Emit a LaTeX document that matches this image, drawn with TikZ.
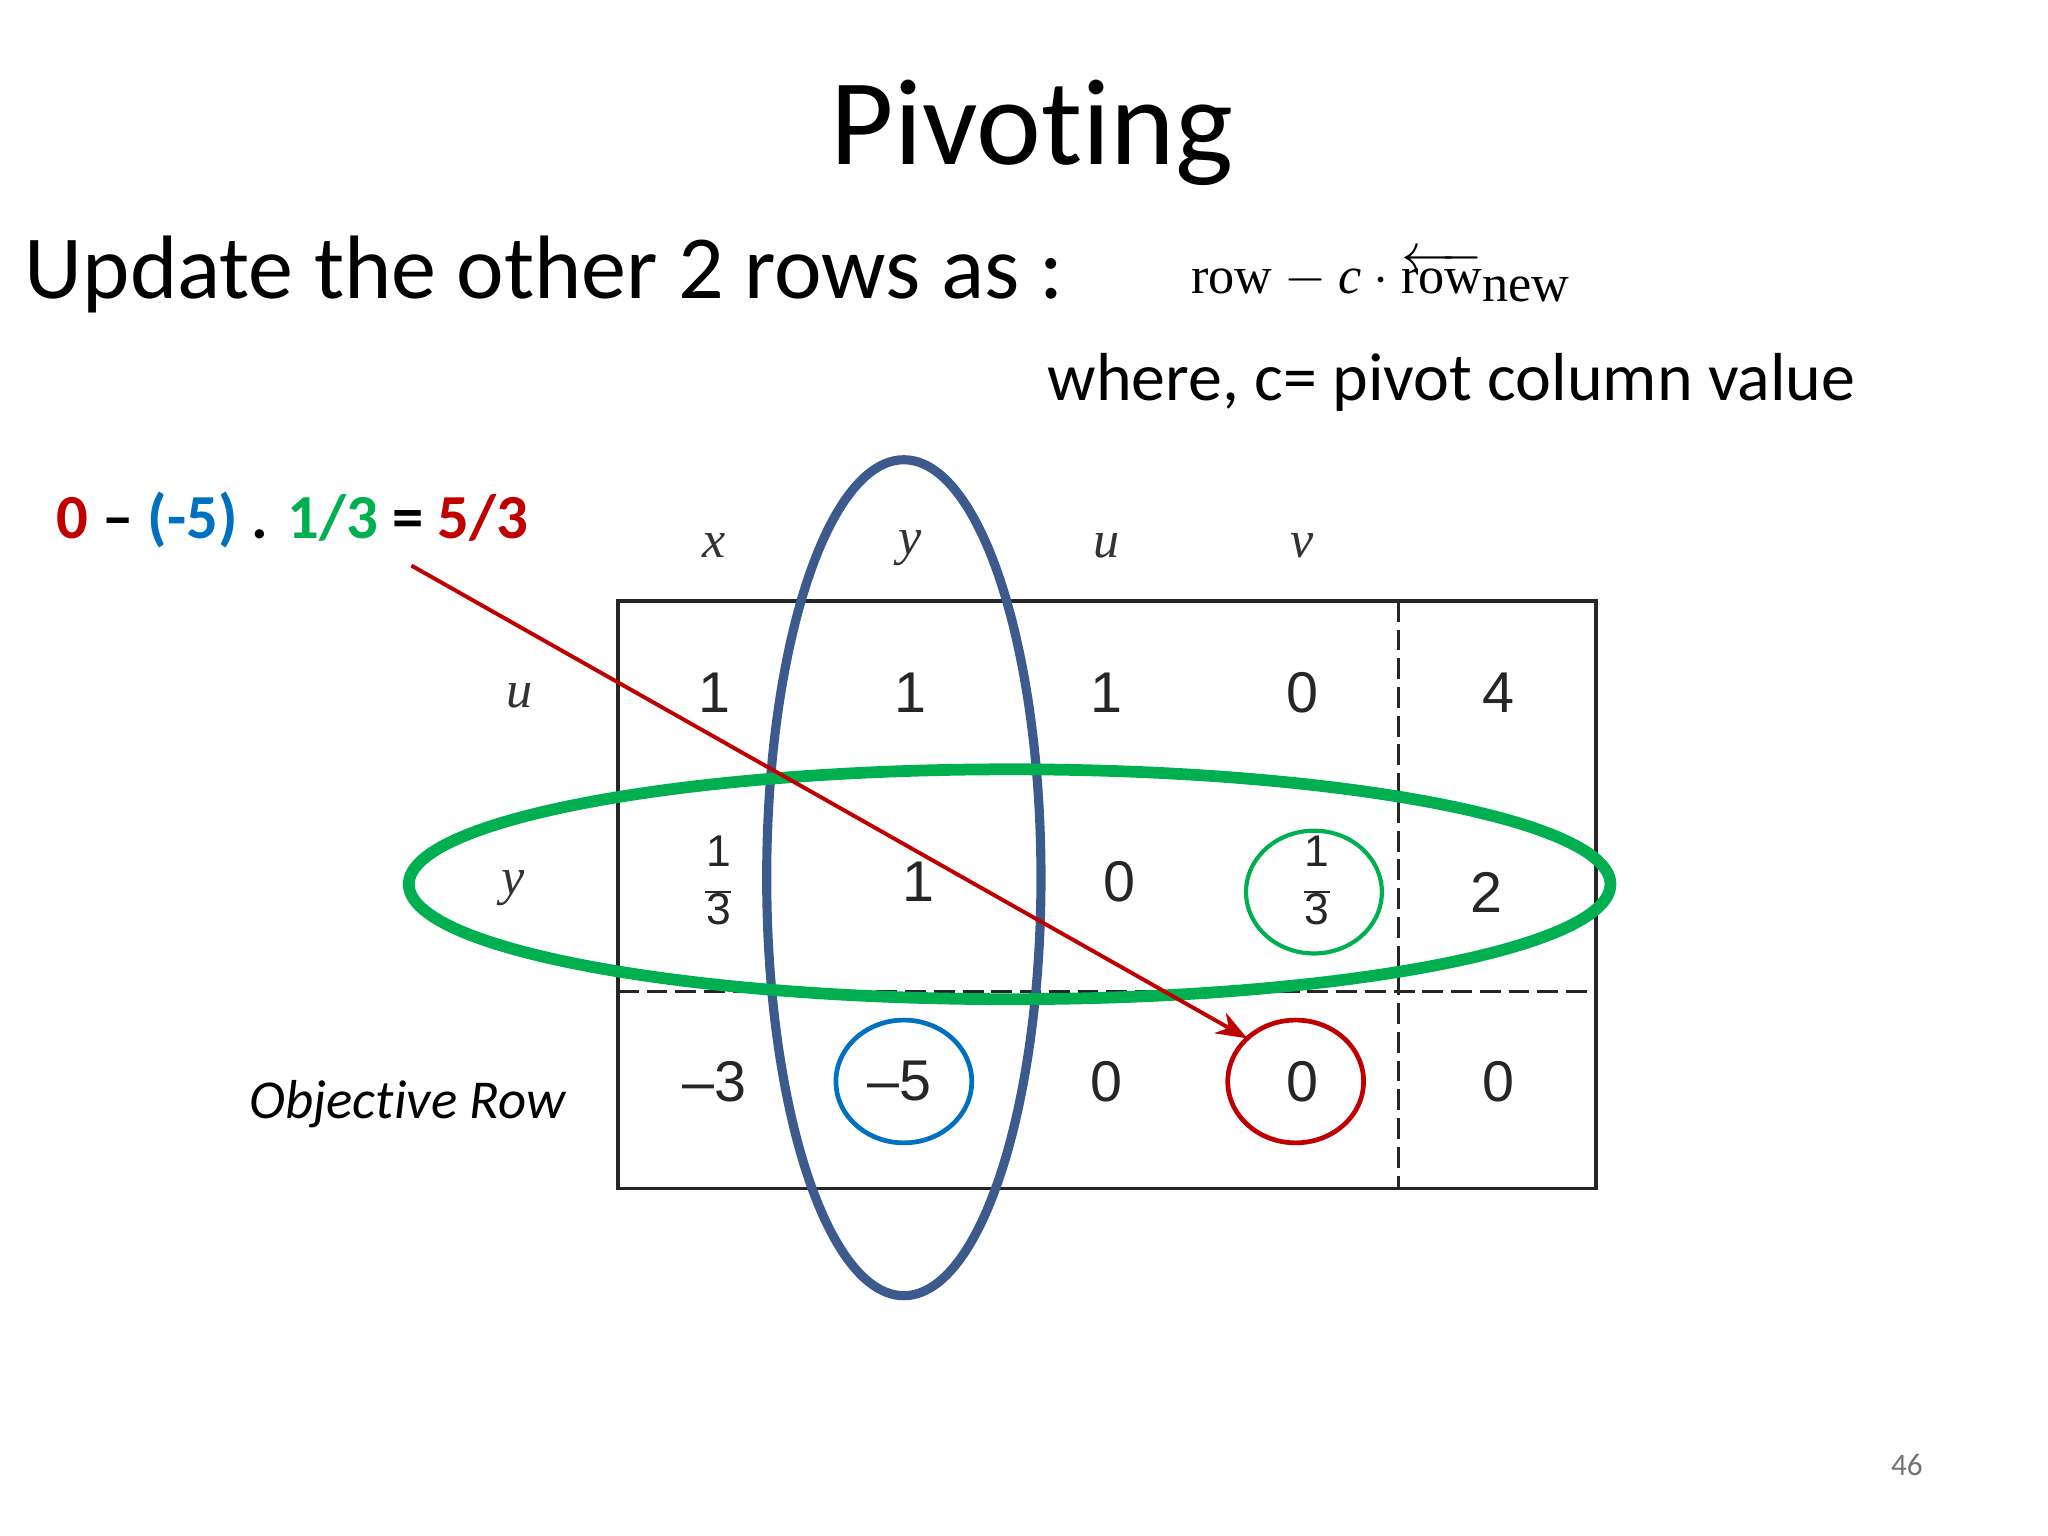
\documentclass[tikz,border=0pt]{standalone}
\usepackage{fontspec}
\setmainfont{Carlito}[Ligatures={NoCommon,NoRare}]
\newfontfamily\serif{Liberation Serif}
\newfontfamily\sans{Liberation Sans}
\usetikzlibrary{arrows.meta}
\definecolor{myblue}{HTML}{3C5A8C}
\definecolor{mygreen}{HTML}{00B050}
\definecolor{cblue}{HTML}{0070C0}
\definecolor{cred}{HTML}{C00000}
\newcommand{\mythird}{\begin{tabular}{@{}c@{}}1\\[-9pt]\rule{10pt}{0.6pt}\\[-7pt]3\end{tabular}}
\begin{document}
\begin{tikzpicture}[x=0.5pt,y=-0.5pt,
  cell/.style={font=\sans\fontsize{22}{24}\selectfont, text=black!85},
  frac/.style={font=\sans\fontsize{17}{19}\selectfont, text=black!85},
  hdr/.style={font=\serif\itshape\fontsize{20}{22}\selectfont, text=black!80},
  dsh/.style={line width=1.2pt, black!85, dash pattern=on 8pt off 3pt}]
\useasboundingbox (0,0) rectangle (1568,1176);
\node (title) at (790,102) {\fontsize{47}{50}\selectfont Pivoting};
\node[anchor=west] (upd) at (12,210) {\fontsize{34.5}{37}\selectfont Update the other 2 rows as :};
\node[anchor=west] (form) at (905,212) {\fontsize{20}{22}\selectfont $\hbox{\serif row}-\hbox{\serif\itshape c}\cdot\overleftarrow{\hbox{\serif row}}_{\hbox{\serif new}}$};
\node[anchor=west] (where) at (795,293) {\fontsize{26}{28}\selectfont where, c= pivot column value};
\node[anchor=west] (calc) at (36,398) {\fontsize{24}{26}\selectfont\bfseries\textcolor{cred}{0} – \textcolor{cblue}{(-5)} . \textcolor{mygreen}{1/3} = \textcolor{cred}{5/3}};
\draw[line width=1.3pt, black!85] (473,460) rectangle (1222,910);
\draw[dsh] (1071,460) -- (1071,910);
\draw[dsh] (473,759) -- (1222,759);
\node[hdr] (hx) at (547,418) {x};
\node[hdr] (hy) at (697,420) {y};
\node[hdr] (hu) at (847,418) {u};
\node[hdr] (hv) at (997,418) {v};
\node[hdr] (ru) at (398,533) {u};
\node[hdr] (ry) at (393,680) {y};
\node[cell] (a1) at (547,530) {1};
\node[cell] (a2) at (697,530) {1};
\node[cell] (a3) at (847,530) {1};
\node[cell] (a4) at (997,530) {0};
\node[cell] (a5) at (1147,530) {4};
\node[frac] (b1) at (550,678) {\mythird};
\node[cell] (b2) at (703,675) {1};
\node[cell] (b3) at (857,675) {0};
\node[frac] (b4) at (1008,678) {\mythird};
\node[cell] (b5) at (1138,683) {2};
\node[cell] (c1) at (547,828) {–3};
\node[cell] (c2) at (689,828) {–5};
\node[cell] (c3) at (847,828) {0};
\node[cell] (c4) at (997,828) {0};
\node[cell] (c5) at (1147,828) {0};
\node (obj) at (312,845) {\fontsize{21}{23}\selectfont\itshape Objective Row};
\draw[myblue, line width=3.5pt] (692,672) ellipse [x radius=105, y radius=320];
\draw[mygreen, line width=4.5pt] (773,677) ellipse [x radius=460, y radius=88];
\draw[mygreen, line width=1.6pt] (1006,683) ellipse [x radius=52, y radius=47];
\draw[cblue, line width=1.8pt] (692,828) ellipse [x radius=52, y radius=47];
\draw[cred, line width=1.8pt] (992,828) ellipse [x radius=52, y radius=47];
\coordinate (s) at (315,433);
\coordinate (e) at (955,795);
\draw[cred, line width=1.5pt, -{Stealth[length=12pt,width=9pt]}] (s) -- (e);
\node (pg) at (1460,1122) {\fontsize{12}{14}\selectfont\textcolor{black!55}{46}};
\end{tikzpicture}
\end{document}
